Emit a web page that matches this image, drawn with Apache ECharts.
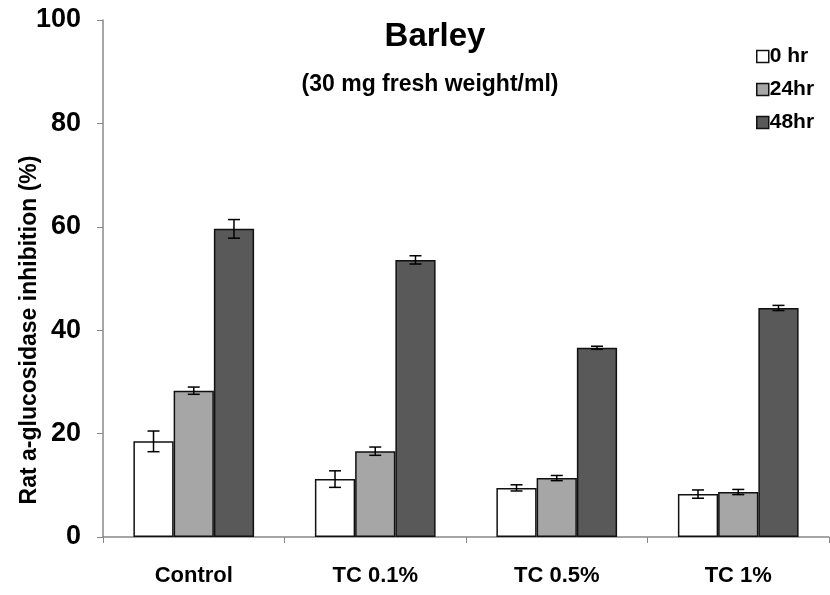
<!DOCTYPE html>
<html><head><meta charset="utf-8">
<script src="https://cdn.jsdelivr.net/npm/echarts@6/dist/echarts.min.js"></script>
<style>html,body{margin:0;padding:0;background:#fff}#c{width:830px;height:595px}</style>
</head><body><div id="c"></div>
<script>
var categories = ['Control', 'TC 0.1%', 'TC 0.5%', 'TC 1%'];
var seriesNames = ['0 hr', '24hr', '48hr'];
var values0 = [18.5, 11.2, 9.5, 8.3];
var values24 = [28.3, 16.6, 11.4, 8.7];
var values48 = [59.6, 53.6, 36.6, 44.3];
var err0 = [2.0, 1.6, 0.6, 0.8];
var err24 = [0.7, 0.8, 0.5, 0.5];
var err48 = [1.8, 0.8, 0.3, 0.5];
var yTicks = [0, 20, 40, 60, 80, 100];
var yAxisTitle = 'Rat a-glucosidase inhibition (%)';

var colors = ['#ffffff', '#a6a6a6', '#595959'];
var allVals = [values0, values24, values48];
var allErr = [err0, err24, err48];
var FONT = 'Liberation Sans';
var CAT_GAP = 0.335;

var chart = echarts.init(document.getElementById('c'));
var series = [];
allVals.forEach(function (vals, si) {
  series.push({
    name: seriesNames[si], type: 'bar', data: vals,
    barGap: '0%', barCategoryGap: (CAT_GAP * 100) + '%',
    itemStyle: { color: colors[si], borderColor: '#111', borderWidth: 1.5 }
  });
});
allVals.forEach(function (vals, si) {
  series.push({
    type: 'custom', silent: true, z: 10,
    data: vals.map(function (v, i) { return [i, v - allErr[si][i], v + allErr[si][i]]; }),
    renderItem: function (params, api) {
      var ci = api.value(0);
      var lo = api.coord([ci, api.value(1)]);
      var hi = api.coord([ci, api.value(2)]);
      var band = api.size([1, 0])[0];
      var bw = band * (1 - CAT_GAP) / 3;
      var x = lo[0] + (si - 1) * bw;
      var cap = 6;
      var st = { stroke: '#000', lineWidth: 1.5 };
      return { type: 'group', children: [
        { type: 'line', shape: { x1: x, y1: lo[1], x2: x, y2: hi[1] }, style: st },
        { type: 'line', shape: { x1: x - cap, y1: lo[1], x2: x + cap, y2: lo[1] }, style: st },
        { type: 'line', shape: { x1: x - cap, y1: hi[1], x2: x + cap, y2: hi[1] }, style: st }
      ]};
    }
  });
});

chart.setOption({
  animation: false,
  backgroundColor: '#fff',
  title: [
    { text: 'Barley', left: 430, top: 15, textAlign: 'center',
      textStyle: { fontFamily: FONT, fontWeight: 'bold', fontSize: 33, color: '#000' } },
    { text: '(30 mg fresh weight/ml)', left: 425, top: 68, textAlign: 'center',
      textStyle: { fontFamily: FONT, fontWeight: 'bold', fontSize: 23, color: '#000' } }
  ],
  graphic: [{
    type: 'text', x: 30, y: 330, rotation: Math.PI / 2,
    style: { text: yAxisTitle, fontFamily: FONT, fontWeight: 'bold', fontSize: 23, fill: '#000',
      align: 'center', verticalAlign: 'middle' }
  }],
  legend: {
    data: seriesNames, orient: 'vertical', left: 751, top: 41, itemGap: 12,
    itemWidth: 12, itemHeight: 12, icon: 'rect',
    textStyle: { fontFamily: FONT, fontWeight: 'bold', fontSize: 21, color: '#000', padding: [0, 0, 0, -4] },
    itemStyle: { borderColor: '#111', borderWidth: 1.5 }
  },
  grid: { left: 103, right: 1, top: 20, bottom: 58, containLabel: false, outerBoundsMode: 'none' },
  xAxis: {
    type: 'category', data: categories,
    axisLine: { lineStyle: { color: '#888', width: 1.5 } },
    axisTick: { show: true, alignWithLabel: false, length: 6, lineStyle: { color: '#888' } },
    axisLabel: { fontFamily: FONT, fontWeight: 'bold', fontSize: 22, color: '#000', margin: 28 }
  },
  yAxis: {
    type: 'value', min: 0, max: 100, interval: 20,
    axisLine: { show: true, lineStyle: { color: '#888', width: 1.5 } },
    axisTick: { show: true, length: 6, lineStyle: { color: '#888' } },
    splitLine: { show: false },
    axisLabel: { fontFamily: FONT, fontWeight: 'bold', fontSize: 27, color: '#000', margin: 22,
      formatter: function (v) { return yTicks.indexOf(v) >= 0 ? String(v) : ''; } }
  },
  series: series
});
</script></body></html>
